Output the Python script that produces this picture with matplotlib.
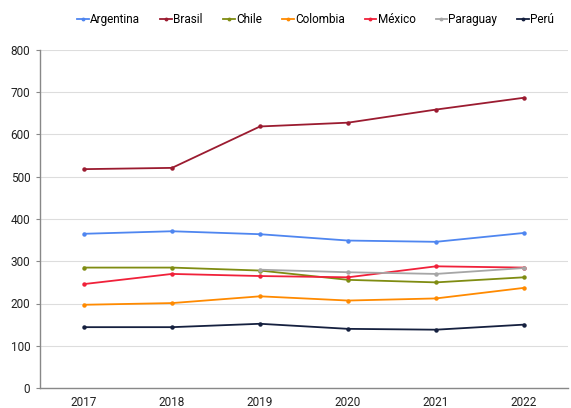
import matplotlib.pyplot as plt
import numpy as np

plt.rcParams['font.family'] = ['Roboto', 'DejaVu Sans']

years = ["2017", "2018", "2019", "2020", "2021", "2022"]
argentina = [365, 371, 364, 349, 346, 367]
brasil = [518, 521, 619, 628, 659, 687]
chile = [285, 285, 278, 256, 250, 262]
colombia = [197, 201, 217, 207, 212, 237]
mexico = [246, 270, 265, 262, 288, 285]
paraguay = [np.nan, np.nan, 280, 274, 270, 284]
peru = [144, 144, 152, 140, 138, 150]

series = [("Argentina", argentina, "#4f86f0"),
          ("Brasil", brasil, "#9b1b30"),
          ("Chile", chile, "#7f8c12"),
          ("Colombia", colombia, "#ff8a00"),
          ("México", mexico, "#f0213a"),
          ("Paraguay", paraguay, "#a6a6a6"),
          ("Perú", peru, "#15203f")]

fig = plt.figure(figsize=(5.71, 4.08), dpi=100)
ax = fig.add_axes([40 / 571, 20 / 408, 528 / 571, 338 / 408])

x = np.arange(len(years))
for name, vals, col in series:
    ax.plot(x, vals, color=col, lw=1.3, marker='o', ms=2.2, label=name)

ax.set_xlim(-0.5, len(years) - 0.5)
ax.set_ylim(0, 800)
ax.set_yticks(range(0, 801, 100))
ax.set_xticks(x)
ax.set_xticklabels(years)
ax.tick_params(axis='x', length=0, labelsize=8.5, pad=6, colors='#222222')
ax.tick_params(axis='y', length=3, labelsize=8.5, colors='#222222', pad=4)
ax.tick_params(axis='y', color='#888888')
ax.grid(axis='y', color='#dddddd', lw=0.8)
ax.set_axisbelow(True)
for s in ['top', 'right']:
    ax.spines[s].set_visible(False)
for s in ['left', 'bottom']:
    ax.spines[s].set_color('#888888')
    ax.spines[s].set_linewidth(1)

fig.legend(loc='center', bbox_to_anchor=(0.553, 0.951), ncol=7, frameon=False,
           fontsize=8.5, handlelength=1.0, handletextpad=0.1, columnspacing=1.7,
           markerscale=0.8)

fig.savefig("out.png", dpi=100)
